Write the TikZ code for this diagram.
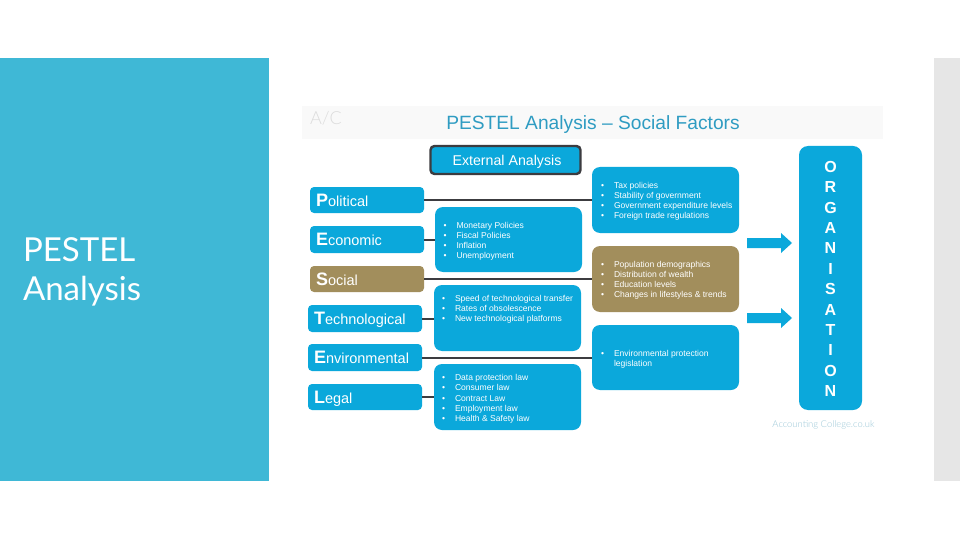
\documentclass[tikz,border=0pt]{standalone}
\usepackage{fontspec}
\setmainfont{Liberation Sans}
\newfontfamily\slidefont{Lato}
\newfontfamily\markfont{Lato Light}
\definecolor{panelblue}{HTML}{3FB8D6}
\definecolor{sidegrey}{HTML}{E6E6E6}
\definecolor{boxblue}{HTML}{0BA8DB}
\definecolor{boxgold}{HTML}{A28E5C}
\definecolor{titleblue}{HTML}{2F9CC2}
\definecolor{darkline}{HTML}{3C3C40}
\definecolor{stripgrey}{HTML}{F9F9F9}
\definecolor{markblue}{HTML}{9CC8D8}
\definecolor{logogrey}{HTML}{DCDCDC}
\tikzset{
  base/.style={inner sep=0pt,outer sep=0pt,draw=none},
  factor/.style={base,fill=boxblue,rounded corners=4pt,anchor=north west,text=white,font=\fontsize{14.5}{18}\selectfont,align=left},
  detail/.style={base,fill=boxblue,rounded corners=8pt,anchor=north west},
  goldfill/.style={fill=boxgold},
  listtext/.style={base,anchor=west,text=white,font=\fontsize{8.55}{10.15}\selectfont,align=left},
  link/.style={draw=darkline,line width=2pt},
  flowarrow/.style={base,fill=boxblue},
  bigletter/.style={base,text=white,font=\bfseries\fontsize{16}{16}\selectfont},
}
\newcommand{\Fac}[2]{\hspace{6pt}\raisebox{0pt}[12pt][0pt]{{\bfseries\fontsize{18}{18}\selectfont #1}#2}}
\newcommand{\Blist}[1]{\begin{tabular}{@{}p{13pt}@{}l@{}}#1\end{tabular}}
\renewcommand{\arraystretch}{1}
\begin{document}
\begin{tikzpicture}[x=1pt,y=-1pt]
\useasboundingbox (0,0) rectangle (960,540);
\fill[white] (0,0) rectangle (960,540);
\fill[panelblue] (0,58) rectangle (269,481);
\fill[sidegrey] (934,58) rectangle (960,481);
\node[base,anchor=west,text=white,font=\slidefont\fontsize{33}{39}\selectfont,align=left] (slidetitle) at (23,272) {PESTEL\\Analysis};
\fill[stripgrey] (302,106) rectangle (883,139);
\node[base,text=logogrey,font=\markfont\fontsize{18}{18}\selectfont] (logo) at (326,118) {A/C};
\node[base,text=titleblue,font=\fontsize{19.2}{24}\selectfont] (charttitle) at (593,125) {PESTEL Analysis – Social Factors};

\node[base,fill=boxblue,draw=darkline,line width=2.4pt,rounded corners=4pt,minimum width=150pt,minimum height=28pt] (external) at (505.5,160) {};
\node[base,text=white,font=\fontsize{14.2}{17}\selectfont] (externaltxt) at (507,161.5) {External Analysis};

% factors
\node[factor,minimum width=114pt,minimum height=26pt,text width=114pt] (pol) at (310,187) {\Fac{P}{olitical}};
\node[factor,minimum width=114pt,minimum height=27pt,text width=114pt] (eco) at (310,226) {\Fac{E}{conomic}};
\node[factor,goldfill,minimum width=114pt,minimum height=26pt,text width=114pt] (soc) at (310,266) {\Fac{S}{ocial}};
\node[factor,minimum width=114pt,minimum height=27pt,text width=114pt] (tec) at (308,305) {\Fac{T}{echnological}};
\node[factor,minimum width=114pt,minimum height=27pt,text width=114pt] (env) at (308,344) {\Fac{E}{nvironmental}};
\node[factor,minimum width=114pt,minimum height=26pt,text width=114pt] (leg) at (308,384) {\Fac{L}{egal}};

% detail boxes
\node[detail,minimum width=147pt,minimum height=65pt] (ecobox) at (435,207) {};
\node[detail,minimum width=147pt,minimum height=66pt] (tecbox) at (434,285) {};
\node[detail,minimum width=147pt,minimum height=66pt] (legbox) at (434,364) {};
\node[detail,minimum width=147pt,minimum height=66pt] (taxbox) at (592,167) {};
\node[detail,goldfill,minimum width=147pt,minimum height=66pt] (socbox) at (592,246) {};
\node[detail,minimum width=147pt,minimum height=65pt] (envbox) at (592,325) {};

% connectors
\draw[link] (pol.east) -- (pol.east -| taxbox.west);
\draw[link] (eco.east) -- (eco.east -| ecobox.west);
\draw[link] (soc.east) -- (soc.east -| socbox.west);
\draw[link] (tec.east) -- (tec.east -| tecbox.west);
\draw[link] (env.east) -- (env.east -| envbox.west);
\draw[link] (leg.east) -- (leg.east -| legbox.west);

% lists
\node[listtext] (ecotxt) at (443.5,241.5) {\Blist{•&Monetary Policies\\•&Fiscal Policies\\•&Inflation\\•&Unemployment}};
\node[listtext] (tectxt) at (442,309.5) {\Blist{•&Speed of technological transfer\\•&Rates of obsolescence\\•&New technological platforms}};
\node[listtext] (legtxt) at (442,399) {\Blist{•&Data protection law\\•&Consumer law\\•&Contract Law\\•&Employment law\\•&Health \& Safety law}};
\node[listtext] (taxtxt) at (601,201.5) {\Blist{•&Tax policies\\•&Stability of government\\•&Government expenditure levels\\•&Foreign trade regulations}};
\node[listtext] (soctxt) at (601,280.5) {\Blist{•&Population demographics\\•&Distribution of wealth\\•&Education levels\\•&Changes in lifestyles \& trends}};
\node[listtext] (envtxt) at (601,359.5) {\Blist{•&Environmental protection\\&legislation}};

% organisation
\node[detail,rounded corners=9pt,minimum width=63pt,minimum height=264pt] (org) at (799,146) {};
\foreach \c [count=\i from 0] in {O,R,G,A,N,I,S,A,T,I,O,N}{
  \node[bigletter] (letter\i) at (830.5,{167+\i*20.36}) {\c};
}

% arrows
\fill[flowarrow] (747,238) -- (781,238) -- (781,233) -- (792,243) -- (781,253) -- (781,248) -- (747,248) -- cycle;
\fill[flowarrow] (747,313) -- (781,313) -- (781,308) -- (792,318) -- (781,328) -- (781,323) -- (747,323) -- cycle;

\node[base,text=markblue,font=\markfont\fontsize{9.4}{12}\selectfont] (mark) at (823.5,425) {Accounting College.co.uk};
\end{tikzpicture}
\end{document}
